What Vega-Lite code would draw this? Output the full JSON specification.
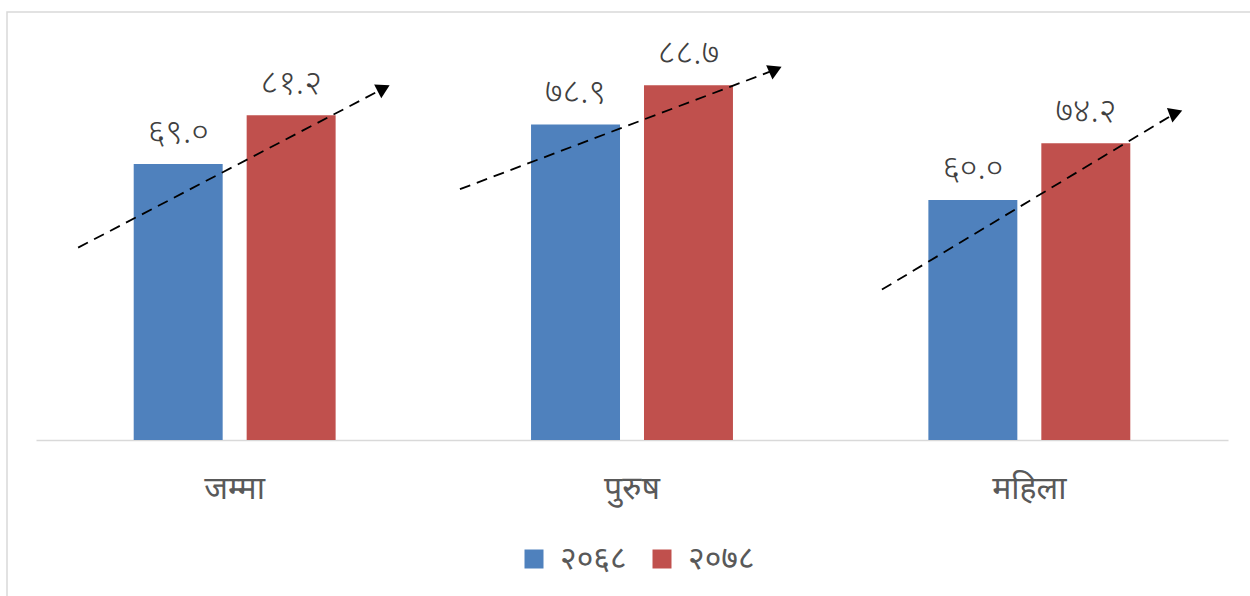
{
  "$schema": "https://vega.github.io/schema/vega-lite/v6.json",
  "autosize": "none",
  "width": 1250,
  "height": 600,
  "padding": {"left": 7, "top": 12, "right": 0, "bottom": 0},
  "background": "white",
  "config": {
    "view": {"stroke": "#D9D9D9", "strokeWidth": 1.5},
    "font": "Noto Sans"
  },
  "datasets": {
    "bars": [
      {"cat": "जम्मा", "series": "२०६८", "value": 69.0, "label": "६९.०"},
      {"cat": "जम्मा", "series": "२०७८", "value": 81.2, "label": "८१.२"},
      {"cat": "पुरुष", "series": "२०६८", "value": 78.9, "label": "७८.९"},
      {"cat": "पुरुष", "series": "२०७८", "value": 88.7, "label": "८८.७"},
      {"cat": "महिला", "series": "२०६८", "value": 60.0, "label": "६०.०"},
      {"cat": "महिला", "series": "२०७८", "value": 74.2, "label": "७४.२"}
    ],
    "arrows": [
      {"arrow": "जम्मा", "x1": 0.106, "y1": 48.1, "x2": 0.875, "y2": 87.9},
      {"arrow": "पुरुष", "x1": 1.067, "y1": 62.7, "x2": 1.861, "y2": 92.6},
      {"arrow": "महिला", "x1": 2.129, "y1": 37.6, "x2": 2.869, "y2": 81.8}
    ]
  },
  "layer": [
    {
      "data": {"name": "bars"},
      "encoding": {
        "x": {
          "field": "cat", "type": "nominal", "sort": ["जम्मा", "पुरुष", "महिला"],
          "scale": {"range": [29, 1221], "paddingInner": 0, "paddingOuter": 0},
          "axis": {
            "title": null, "orient": "bottom", "offset": -172,
            "domainColor": "#D9D9D9", "domainWidth": 1.5, "ticks": false,
            "labelFontSize": 32, "labelColor": "#595959", "labelPadding": 33,
            "labelAngle": 0
          }
        },
        "xOffset": {
          "field": "series", "type": "nominal", "sort": ["२०६८", "२०७८"],
          "scale": {"paddingInner": 0.2124, "paddingOuter": 0.865}
        },
        "y": {
          "field": "value", "type": "quantitative",
          "scale": {"domain": [0, 100], "range": [428, 28], "zero": true, "nice": false},
          "axis": null
        }
      },
      "layer": [
        {
          "mark": {"type": "bar"},
          "encoding": {
            "color": {
              "field": "series", "type": "nominal",
              "scale": {"domain": ["२०६८", "२०७८"], "range": ["#4F81BD", "#C0504D"]},
              "legend": {
                "title": null, "orient": "none", "direction": "horizontal",
                "legendX": 511, "legendY": 531,
                "symbolType": "square", "symbolSize": 361, "symbolStrokeWidth": 0,
                "labelFontSize": 32, "labelColor": "#595959", "labelOffset": 10,
                "columnPadding": 19
              }
            }
          }
        },
        {
          "mark": {"type": "text", "baseline": "bottom", "dy": -14, "fontSize": 34, "color": "#404040", "fontWeight": 300},
          "encoding": {"text": {"field": "label"}}
        }
      ]
    },
    {
      "data": {"name": "arrows"},
      "encoding": {
        "x": {
          "field": "x1", "type": "quantitative",
          "scale": {"domain": [0, 3], "range": [29, 1221], "nice": false, "zero": false},
          "axis": null
        },
        "y": {"field": "y1", "type": "quantitative", "axis": null}
      },
      "layer": [
        {
          "mark": {"type": "rule", "color": "black", "strokeWidth": 1.8, "strokeDash": [11, 7]},
          "encoding": {
            "x2": {"field": "x2"},
            "y2": {"field": "y2"}
          }
        },
        {
          "mark": {"type": "point", "shape": "triangle-up", "filled": true, "color": "black", "opacity": 1, "size": 240},
          "encoding": {
            "x": {"field": "x2", "type": "quantitative"},
            "y": {"field": "y2", "type": "quantitative"},
            "angle": {
              "field": "arrow", "type": "nominal",
              "scale": {"domain": ["जम्मा", "पुरुष", "महिला"], "range": [62.6, 69.3, 59]},
              "legend": null
            }
          }
        }
      ]
    }
  ],
  "resolve": {"scale": {"x": "independent"}}
}
